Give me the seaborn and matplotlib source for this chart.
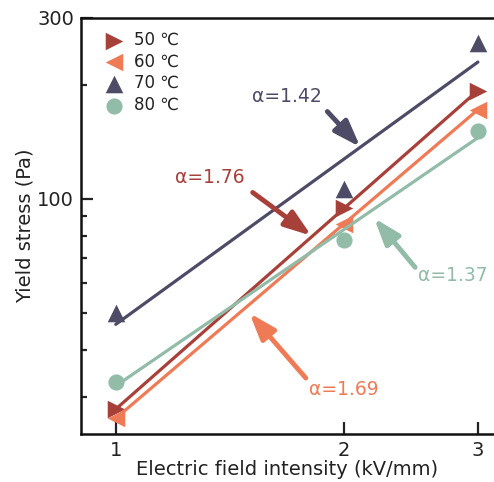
import numpy as np
import pandas as pd
import seaborn as sns
import matplotlib
matplotlib.use("Agg")
import matplotlib.pyplot as plt
from matplotlib.ticker import FixedLocator, FixedFormatter, NullFormatter

# ---- data ----
field = [1, 2, 3]  # kV/mm
labels = ["50 \u2103", "60 \u2103", "70 \u2103", "80 \u2103"]
stress_50 = [27.9, 94.7, 193]
stress_60 = [26.4, 86, 172]
stress_70 = [50, 106, 258]
stress_80 = [32.9, 78, 151]
alpha_labels = ["\u03b1=1.76", "\u03b1=1.69", "\u03b1=1.42", "\u03b1=1.37"]

colors = ["#a8403a", "#ef7b56", "#4d4b66", "#92bba8"]
markers = [">", "<", "^", "o"]
sizes = [160, 160, 160, 135]
series = [stress_50, stress_60, stress_70, stress_80]

sns.set_theme(style="ticks")
plt.rcParams["font.family"] = ["DejaVu Sans"]

fig = plt.figure(figsize=(4.94, 4.82), dpi=100)
ax = fig.add_axes([0.164, 0.0996, 0.836, 0.8631])

x = np.array(field, dtype=float)
for ys, lab, c, m, s in zip(series, labels, colors, markers, sizes):
    df = pd.DataFrame({"E": x, "tau": ys})
    sns.scatterplot(data=df, x="E", y="tau", marker=m, color=c, s=s,
                    linewidth=0, label=lab, ax=ax, zorder=2)
for ys, c in zip(series, colors):
    slope, icpt = np.polyfit(np.log10(x), np.log10(ys), 1)
    xf = np.array([x[0], x[-1]])
    fit = pd.DataFrame({"E": xf, "tau": 10 ** (icpt + slope * np.log10(xf))})
    sns.lineplot(data=fit, x="E", y="tau", color=c, lw=2.3, ax=ax,
                 legend=False, zorder=3)

ax.set_xscale("log")
ax.set_yscale("log")
ax.set_xlim(0.9, 3.15)
ax.set_ylim(24, 300)

ax.xaxis.set_major_locator(FixedLocator([1, 2, 3]))
ax.xaxis.set_major_formatter(FixedFormatter(["1", "2", "3"]))
ax.xaxis.set_minor_locator(FixedLocator([]))
ax.yaxis.set_major_locator(FixedLocator([100, 300]))
ax.yaxis.set_major_formatter(FixedFormatter(["100", "300"]))
ax.yaxis.set_minor_locator(FixedLocator([30, 40, 50, 60, 70, 80, 90, 200]))
ax.yaxis.set_minor_formatter(NullFormatter())

ax.tick_params(which="major", direction="in", length=8.5, width=1.6,
               labelsize=14, colors="#222222", pad=5)
ax.tick_params(which="minor", direction="in", length=4.5, width=1.6)
ax.tick_params(axis="y", which="both", left=True, right=False)
ax.tick_params(axis="x", which="both", bottom=True, top=False)

for side in ["left", "bottom", "top"]:
    ax.spines[side].set_linewidth(1.8)
    ax.spines[side].set_color("#111111")
ax.spines["right"].set_visible(False)

ax.set_xlabel("Electric field intensity (kV/mm)", fontsize=14, color="#222222", labelpad=0)
ax.set_ylabel("Yield stress (Pa)", fontsize=14, color="#222222", labelpad=2)

# annotations: (text xy, arrow tail, arrow tip)
ann = [
    ((1.33, 114), (1.515, 104), (1.81, 80)),
    ((2.0, 31.5), (1.78, 33.7), (1.50, 50)),
    ((1.68, 186), (1.90, 170), (2.10, 137)),
    ((2.78, 63), (2.48, 66), (2.19, 89)),
]
for (txy, tail, tip), lab, c in zip(ann, alpha_labels, colors):
    ax.text(txy[0], txy[1], lab, color=c, fontsize=13.5, ha="center", va="center")
    ax.annotate("", xy=tip, xytext=tail,
                arrowprops=dict(arrowstyle="-|>,head_length=0.8,head_width=0.28",
                                mutation_scale=20, lw=3.5, color=c,
                                shrinkA=0, shrinkB=0))

leg = ax.legend(loc="upper left", frameon=False, fontsize=12,
                handletextpad=0.6, labelspacing=0.22,
                borderaxespad=0.0, bbox_to_anchor=(0.04, 0.985), handlelength=1.2)
for t in leg.get_texts():
    t.set_color("#222222")

fig.savefig("out.png", dpi=100)
